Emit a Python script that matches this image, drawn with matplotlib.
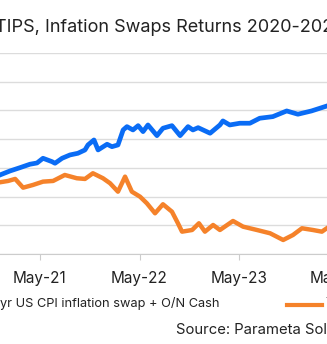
import matplotlib.pyplot as plt
import matplotlib.dates as mdates
from matplotlib.lines import Line2D
import pandas as pd

plt.rcParams['font.family'] = ['Inter', 'DejaVu Sans']

# swap + cash index (blue)
swap_dates = ['2020-12-05', '2021-01-11', '2021-02-17', '2021-03-25', '2021-04-20',
              '2021-05-12', '2021-06-14', '2021-06-25', '2021-07-21', '2021-08-19',
              '2021-09-17', '2021-10-13', '2021-10-24', '2021-11-15', '2021-11-30',
              '2022-01-02', '2022-01-20', '2022-02-11', '2022-03-02', '2022-03-16',
              '2022-04-07', '2022-04-26', '2022-05-14', '2022-06-01', '2022-07-04',
              '2022-07-26', '2022-08-28', '2022-09-27', '2022-10-26', '2022-11-13',
              '2022-12-02', '2023-01-15', '2023-02-20', '2023-03-03', '2023-03-28',
              '2023-05-04', '2023-06-10', '2023-07-16', '2023-09-02', '2023-10-23',
              '2023-12-03', '2024-01-22', '2024-03-11', '2024-03-25']
swap_vals = [93.76, 94.46, 95.04, 95.63, 95.85, 96.67, 96.08, 95.80, 96.67, 97.25,
             97.54, 98.12, 98.99, 99.86, 98.12, 99.11, 98.69, 98.99, 101.60, 102.18,
             101.60, 102.35, 101.31, 102.47, 100.61, 101.90, 102.35, 100.61, 102.18, 101.60,
             102.00, 101.03, 102.47, 103.17, 102.47, 102.77, 102.77, 103.64, 103.92, 104.91,
             104.34, 104.91, 105.66, 105.87]

# TIPS index (orange)
tips_dates = ['2020-12-05', '2021-01-04', '2021-01-30', '2021-02-28', '2021-04-05',
              '2021-05-12', '2021-06-18', '2021-07-31', '2021-09-13', '2021-10-13',
              '2021-11-11', '2021-12-18', '2022-01-13', '2022-02-11', '2022-03-09',
              '2022-04-03', '2022-05-03', '2022-05-28', '2022-06-27', '2022-07-26',
              '2022-08-28', '2022-09-19', '2022-10-04', '2022-11-10', '2022-12-05',
              '2022-12-27', '2023-01-26', '2023-02-20', '2023-04-09', '2023-05-16',
              '2023-07-06', '2023-08-23', '2023-10-10', '2023-11-15', '2023-12-18',
              '2024-01-27', '2024-02-29', '2024-03-18']
tips_vals = [92.49, 92.72, 93.07, 91.55, 92.02, 92.60, 92.72, 93.76, 93.19, 93.07,
             94.06, 93.19, 92.32, 90.85, 93.47, 90.85, 89.98, 88.83, 87.09, 88.66,
             87.37, 85.35, 83.89, 84.18, 85.35, 83.89, 85.05, 84.18, 85.75, 84.76,
             84.18, 83.61, 82.44, 83.31, 84.48, 84.18, 83.89, 84.48]

title = 'TIPS, Infation Swaps Returns 2020-2024'
swap_label = 'yr US CPI inflation swap + O/N Cash'
tips_label = 'TIPS'
source = 'Source: Parameta Solutions'
y_grid = [80, 85, 90, 95, 100, 105, 110, 115]

BLUE = '#0a6cf5'
ORANGE = '#f5822a'
W, H = 327, 344

fig = plt.figure(figsize=(W / 100, H / 100), dpi=100)

# axes is wider than the picture, the crop cuts it on both sides
x0, x1 = pd.Timestamp('2020-11-01'), pd.Timestamp('2024-07-01')
ppd = 99.5 / 365
left = 40 - (pd.Timestamp('2021-05-01') - x0).days * ppd
width = (x1 - x0).days * ppd
ax = fig.add_axes([left / W, 1 - 254 / H, width / W, (254 - 53) / H])

ax.plot(pd.to_datetime(swap_dates), swap_vals, color=BLUE, lw=3.4, solid_joinstyle='round')
ax.plot(pd.to_datetime(tips_dates), tips_vals, color=ORANGE, lw=3.2, solid_joinstyle='round')

ax.set_xlim(x0, x1)
ax.set_ylim(80, 115)
ax.set_yticks(y_grid)
ax.yaxis.grid(True, color='#dcdcdc', lw=1)
ax.tick_params(axis='y', length=0, labelleft=False)
ax.xaxis.set_major_locator(mdates.MonthLocator(bymonth=5))
ax.xaxis.set_major_formatter(mdates.DateFormatter('%b-%y'))
ax.tick_params(axis='x', length=4, color='#cccccc', labelsize=11, labelcolor='#222222', pad=8)
for s in ['top', 'left', 'right']:
    ax.spines[s].set_visible(False)
ax.spines['bottom'].set_color('#cccccc')

fig.text(-5 / W, 1 - 28 / H, title, fontsize=13, color='#222222', va='center', ha='left')
fig.text(220 / W, 1 - 303 / H, swap_label, fontsize=9.2, color='#222222', va='center', ha='right')
fig.add_artist(Line2D([287 / W, 322 / W], [1 - 305 / H, 1 - 305 / H], color=ORANGE, lw=3))
fig.text(325 / W, 1 - 303 / H, tips_label, fontsize=9.2, color='#222222', va='center', ha='left')
fig.text(176 / W, 1 - 330 / H, source, fontsize=10.7, color='#222222', va='center', ha='left')

fig.savefig('out.png', dpi=100)
